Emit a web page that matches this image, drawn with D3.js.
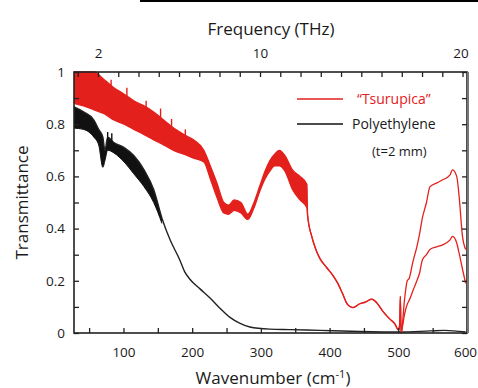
<!DOCTYPE html>
<html>
<head>
<meta charset="utf-8">
<script src="https://cdn.jsdelivr.net/npm/d3@7"></script>
<style>
  body { margin: 0; background: #fff; }
  svg text { font-family: "Open Sans", "Noto Sans", sans-serif; fill: #1a1a1a; }
</style>
</head>
<body>
<div id="chart"></div>
<script>
// Tsurupica: wavenumber, upper and lower envelope (the fringes make a band below ~370 cm-1;
// above 505 cm-1 the two envelopes are the two separate traces)
var redW  = [28, 42, 57, 72, 86, 101, 115, 130, 144, 159, 173, 188, 202, 217, 227, 236, 246, 253, 261, 271, 281, 290, 298, 306, 313, 320, 327, 335, 346, 357, 367,
             368, 374, 380, 386, 396, 405, 412, 419, 426, 434, 444, 452, 461, 468, 477, 487, 495, 500, 502, 503, 504, 505,
             509, 513, 516, 521, 527, 531, 535, 541, 546, 556, 564, 575, 579, 585, 589, 593, 598];
var redHi = [1.0, 1.0, 1.0, 0.97, 0.94, 0.915, 0.89, 0.87, 0.847, 0.815, 0.785, 0.76, 0.74, 0.70, 0.636, 0.575, 0.50, 0.49, 0.51, 0.50, 0.455, 0.50, 0.56, 0.62, 0.66, 0.685, 0.70, 0.68, 0.625, 0.60, 0.57,
             0.45, 0.37, 0.32, 0.285, 0.25, 0.22, 0.19, 0.15, 0.11, 0.097, 0.112, 0.118, 0.13, 0.118, 0.085, 0.055, 0.035, 0.012, 0.03, 0.14, 0.0, 0.01,
             0.126, 0.20, 0.21, 0.27, 0.33, 0.38, 0.44, 0.50, 0.56, 0.575, 0.586, 0.605, 0.625, 0.60, 0.51, 0.38, 0.32];
var redLo = [0.88, 0.87, 0.855, 0.84, 0.816, 0.80, 0.78, 0.76, 0.74, 0.72, 0.70, 0.685, 0.67, 0.655, 0.586, 0.52, 0.46, 0.455, 0.47, 0.46, 0.435, 0.48, 0.54, 0.59, 0.62, 0.64, 0.64, 0.62, 0.55, 0.51, 0.48,
             0.45, 0.37, 0.32, 0.285, 0.25, 0.22, 0.19, 0.15, 0.11, 0.097, 0.112, 0.118, 0.13, 0.118, 0.085, 0.055, 0.035, 0.012, 0.03, 0.14, 0.0, 0.01,
             0.07, 0.11, 0.126, 0.16, 0.20, 0.23, 0.28, 0.30, 0.32, 0.33, 0.337, 0.356, 0.37, 0.345, 0.30, 0.25, 0.19];
var redBandEnd = 30; // index of last band point
// fringe spikes standing above the red band
var redSpikeW   = [82, 105, 133, 154, 170, 190];
var redSpikeTop = [0.97, 0.94, 0.89, 0.86, 0.82, 0.78];

// Polyethylene
var blackW  = [28, 42, 57, 64, 70, 73, 77, 86, 101, 115, 130, 144, 156, 168, 182, 189, 197, 211, 226, 240, 255, 269, 284, 313, 342, 386, 444, 502, 546, 567, 598];
var blackHi = [0.866, 0.847, 0.816, 0.78, 0.75, 0.70, 0.75, 0.73, 0.71, 0.68, 0.625, 0.55, 0.44, 0.356, 0.28, 0.235, 0.205, 0.17, 0.134, 0.096, 0.06, 0.038, 0.023, 0.015, 0.013, 0.01, 0.006, 0.004, 0.008, 0.01, 0.004];
var blackLo = [0.785, 0.78, 0.75, 0.72, 0.635, 0.66, 0.70, 0.69, 0.655, 0.61, 0.56, 0.50, 0.42, 0.356, 0.28, 0.235, 0.205, 0.17, 0.134, 0.096, 0.06, 0.038, 0.023, 0.015, 0.013, 0.01, 0.006, 0.004, 0.008, 0.01, 0.004];
var blackBandEnd = 12;
var blackSpikeW   = [77, 83];
var blackSpikeTop = [0.77, 0.765];

var yTicks = [0, 0.2, 0.4, 0.6, 0.8, 1];
var xTicks = [100, 200, 300, 400, 500, 600];
var freqLabels = [2, 10, 20];

var W = 478, H = 388;
var margin = {left: 74, top: 72, right: 11, bottom: 55},
    width = W - margin.left - margin.right,
    height = H - margin.top - margin.bottom;

var svg = d3.select('#chart').append('svg')
    .attr('width', W).attr('height', H);

// stray border line at the very top of the figure
svg.append('line').attr('x1', 140).attr('x2', W).attr('y1', 1).attr('y2', 1)
   .attr('stroke', '#000').attr('stroke-width', 2);

var g = svg.append('g').attr('transform', 'translate(' + margin.left + ',' + margin.top + ')');

var x = d3.scaleLinear().domain([28, 600]).range([0, width]);
var y = d3.scaleLinear().domain([0, 1]).range([height, 0]);
var f = d3.scaleLinear().domain([0.815, 20.22]).range([0, width]); // THz, as printed on the top axis

var red = '#e3201c', black = '#111';

function rows(ws, hi, lo) {
    return ws.map(function(w, i){ return {w: w, hi: hi[i], lo: lo[i]}; });
}
var redData = rows(redW, redHi, redLo);
var blackData = rows(blackW, blackHi, blackLo);

var curve = d3.curveMonotoneX;
var area = d3.area().curve(curve).x(function(d){ return x(d.w); })
    .y0(function(d){ return y(d.lo); }).y1(function(d){ return y(d.hi); });
var lineHi = d3.line().curve(curve).x(function(d){ return x(d.w); }).y(function(d){ return y(d.hi); });
var lineLo = d3.line().curve(curve).x(function(d){ return x(d.w); }).y(function(d){ return y(d.lo); });

var plot = g.append('g');

function spikes(ws, tops, envW, envHi, color) {
    var env = d3.scaleLinear().domain(envW).range(envHi);
    plot.selectAll(null).data(ws).enter().append('line')
        .attr('x1', function(d){ return x(d); }).attr('x2', function(d){ return x(d); })
        .attr('y1', function(d){ return y(env(d)) + 2; })
        .attr('y2', function(d, i){ return y(tops[i]); })
        .attr('stroke', color).attr('stroke-width', 1.4);
}

// black
plot.append('path').datum(blackData.slice(0, blackBandEnd + 1))
    .attr('d', area).attr('fill', black);
plot.append('path').datum(blackData).attr('d', lineHi)
    .attr('fill', 'none').attr('stroke', '#222').attr('stroke-width', 1.4);
plot.append('path').datum(blackData.slice(0, blackBandEnd + 1)).attr('d', lineLo)
    .attr('fill', 'none').attr('stroke', black).attr('stroke-width', 1);
spikes(blackSpikeW, blackSpikeTop, blackW, blackHi, black);

// red
plot.append('path').datum(redData.slice(0, redBandEnd + 2))
    .attr('d', area).attr('fill', red);
plot.append('path').datum(redData).attr('d', lineHi)
    .attr('fill', 'none').attr('stroke', red).attr('stroke-width', 1.3);
plot.append('path').datum(redData).attr('d', lineLo)
    .attr('fill', 'none').attr('stroke', red).attr('stroke-width', 1.3);
spikes(redSpikeW, redSpikeTop, redW, redHi, red);

// axes
var tickLen = 5;
var xAxis = d3.axisBottom(x).tickValues(d3.range(50, 601, 50)).tickSize(-tickLen)
    .tickFormat(function(d){ return xTicks.indexOf(d) >= 0 ? d : ''; }).tickPadding(14);
var yAxis = d3.axisLeft(y).tickValues(d3.range(0, 1.01, 0.1)).tickSize(-tickLen)
    .tickFormat(function(d){
        var r = Math.round(d * 10) / 10;
        return yTicks.indexOf(r) >= 0 ? d3.format('~g')(r) : '';
    }).tickPadding(9);
var yRight = d3.axisRight(y).tickValues(d3.range(0, 1.01, 0.1)).tickSize(-tickLen).tickFormat('');
var fAxis = d3.axisTop(f).tickValues(d3.range(1, 21)).tickSize(-tickLen)
    .tickFormat(function(d){ return freqLabels.indexOf(d) >= 0 ? d : ''; }).tickPadding(14);

function style(sel) {
    sel.select('.domain').remove();
    sel.selectAll('line').attr('stroke', '#222').attr('stroke-width', 1.3);
    sel.selectAll('text').style('font-size', '13.5px').attr('fill', '#1a1a1a');
}
var xg = g.append('g').attr('transform', 'translate(0,' + height + ')').call(xAxis).call(style);
xg.selectAll('text').filter(function(d){ return d === 600; }).attr('dx', -2);
g.append('g').call(yAxis).call(style);
g.append('g').attr('transform', 'translate(' + width + ',0)').call(yRight).call(style);
var fg = g.append('g').call(fAxis).call(style);
fg.selectAll('text').filter(function(d){ return d === 20; }).attr('dx', -2);

// frame
g.append('rect').attr('width', width).attr('height', height)
    .attr('fill', 'none').attr('stroke', '#222').attr('stroke-width', 1.6);
g.append('line').attr('x1', width + 1).attr('x2', width + 1).attr('y1', 0).attr('y2', height)
    .attr('stroke', '#777').attr('stroke-width', 2);

// axis titles
svg.append('text').attr('x', 271).attr('y', 35).attr('text-anchor', 'middle')
    .style('font-size', '17px').text('Frequency (THz)');
svg.append('text').attr('transform', 'translate(28,' + (margin.top + height / 2) + ') rotate(-90)')
    .attr('text-anchor', 'middle').style('font-size', '17px').text('Transmittance');
var xt = svg.append('text').attr('x', 273).attr('y', 384).attr('text-anchor', 'middle')
    .style('font-size', '17px');
xt.append('tspan').text('Wavenumber (cm');
xt.append('tspan').attr('dy', -6).style('font-size', '11px').text('-1');
xt.append('tspan').attr('dy', 6).text(')');

// legend
var legend = [{name: '\u201cTsurupica\u201d', color: red}, {name: 'Polyethylene', color: black}];
var lg = svg.append('g');
legend.forEach(function(d, i){
    var ly = 99 + i * 25;
    lg.append('line').attr('x1', 297).attr('x2', 343).attr('y1', ly).attr('y2', ly)
      .attr('stroke', d.color).attr('stroke-width', 1.6);
    lg.append('text').attr('x', i === 0 ? 357 : 352).attr('y', ly + 5)
      .style('font-size', '14px').style('fill', i === 0 ? red : '#1a1a1a').text(d.name);
});
lg.append('text').attr('x', 372).attr('y', 156).style('font-size', '13px').text('(t=2 mm)');
</script>
</body>
</html>
